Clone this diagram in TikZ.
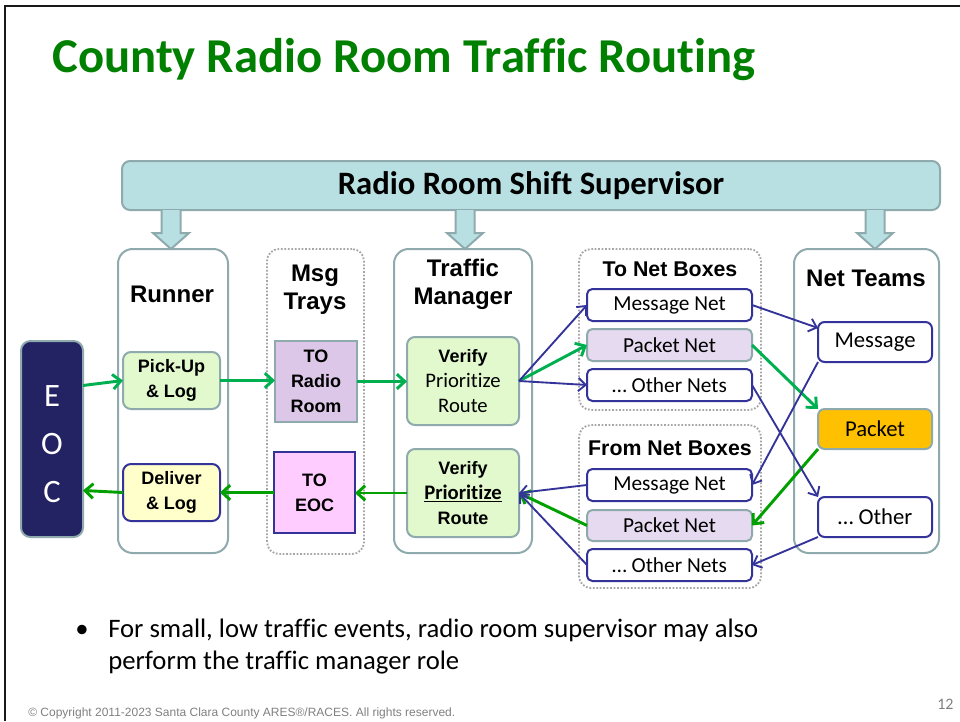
\documentclass[tikz,border=0pt]{standalone}
\usepackage{fontspec}
\setmainfont{Carlito}[Ligatures=NoCommon]
\newfontfamily\arial{Liberation Sans}
\usetikzlibrary{arrows.meta,calc}
\definecolor{titlegreen}{HTML}{008000}
\definecolor{greenA}{HTML}{00B050}
\definecolor{greenB}{HTML}{00A000}
\definecolor{navy}{HTML}{333399}
\definecolor{tealb}{HTML}{8FAAAC}
\definecolor{supfill}{HTML}{B8DFE1}
\definecolor{eocfill}{HTML}{232262}
\definecolor{lgreen}{HTML}{E2F9CD}
\definecolor{lyellow}{HTML}{FFFFCC}
\definecolor{lav}{HTML}{DCC7E9}
\definecolor{lav2}{HTML}{E5DAF0}
\definecolor{lpink}{HTML}{FFCCFF}
\definecolor{orangef}{HTML}{FFC000}
\definecolor{dotgray}{HTML}{A6A6A6}
\definecolor{copygray}{HTML}{808080}
\newcommand\bx[7]{%
  \node[#2, minimum width={(#5-#3)*0.75pt}, minimum height={(#6-#4)*0.75pt}] (#1) at ({(#3+#5)/2},{(#4+#6)/2}) {#7};}
\newcommand\fa{\arial\bfseries\fontsize{18}{21}\selectfont}
\newcommand\fb{\arial\bfseries\fontsize{13.5}{18.75}\selectfont}
\newcommand\fc{\fontsize{16}{19}\selectfont}
\begin{document}
\begin{tikzpicture}[x=0.75pt,y=-0.75pt,
  box/.style={inner sep=0pt, outer sep=0pt, line width=1.5pt, align=center},
  cont/.style={box, draw=tealb, fill=white, rounded corners=11pt},
  dcont/.style={box, draw=dotgray, line width=1.4pt, dash pattern=on 1.3pt off 1.3pt, rounded corners=9pt},
  gbox/.style={box, draw=tealb, fill=lgreen, rounded corners=6pt},
  ybox/.style={box, draw=navy, fill=lyellow, rounded corners=6pt},
  netw/.style={box, draw=navy, fill=white, rounded corners=4pt},
  netp/.style={box, draw=tealb, fill=lav2, rounded corners=4pt},
  title/.style={inner sep=0pt, align=center, font=\fa},
  garrow/.style={draw=greenA, line width=2.2pt, -{Straight Barb[length=6pt,width=11pt]}},
  garrowb/.style={draw=greenB, line width=2.2pt, -{Straight Barb[length=6pt,width=11pt]}},
  narrow/.style={draw=navy, line width=1.4pt, -{Straight Barb[length=5.5pt,width=10pt]}},
  barrow/.style={draw=tealb, fill=supfill, line width=1.5pt, line join=miter}
]
\useasboundingbox (0,0) rectangle (960,721);
% slide frame
\draw[line width=1.7pt, color=black!90] (5.3,721) -- (5.3,6.2) -- (960,6.2);
% title
\node[anchor=west, inner sep=0pt, text=titlegreen, font=\bfseries\fontsize{36.5}{44}\selectfont] (title) at (52,60) {County Radio Room Traffic Routing};
% supervisor bar
\bx{sup}{box, draw=tealb, fill=supfill, rounded corners=6pt, font=\bfseries\fontsize{24.5}{28}\selectfont}{122}{161}{940}{210}{Radio Room Shift Supervisor}
% containers
\bx{runner}{cont}{118}{249}{228}{553}{}
\bx{trays}{dcont}{267}{249}{364}{554}{}
\bx{traffic}{cont}{394}{249}{532}{553}{}
\bx{tonet}{dcont}{579}{249}{761}{410}{}
\bx{fromnet}{dcont}{579}{425}{761}{588}{}
\bx{teams}{cont}{794}{249}{939}{553}{}
% container titles
\node[title] (runnerT) at (172,294) {Runner};
\node[title] (traysT) at (315,290) {Msg\\Trays};
\node[title] (trafficT) at (463,284) {Traffic\\Manager};
\node[title, font=\arial\bfseries\fontsize{16}{19}\selectfont] (tonetT) at (670,269) {To Net Boxes};
\node[title, font=\arial\bfseries\fontsize{16}{19}\selectfont] (fromnetT) at (670,448) {From Net Boxes};
\node[title] (teamsT) at (866,278) {Net Teams};
% EOC
\node[box, draw=tealb, fill=eocfill, rounded corners=7pt, minimum width={62*0.75pt}, minimum height={196*0.75pt}] (EOC) at (52,439) {};
\node[inner sep=0pt, align=center, text=white, font=\fontsize{24.5}{36}\selectfont] (EOCtext) at (52,444) {E\\O\\C};
% runner boxes
\bx{PickUp}{gbox, font=\fb}{123}{352}{220}{409}{Pick-Up\\\& Log}
\bx{Deliver}{ybox, font=\fb}{123}{464}{220}{521}{Deliver\\\& Log}
% trays
\bx{TORadio}{box, draw=tealb, fill=lav, font=\fb}{275}{341}{357}{422}{TO\\Radio\\Room}
\bx{TOEOC}{box, draw=navy, fill=lpink, font=\fb}{274}{452}{355}{533}{TO\\EOC}
% traffic manager boxes
\bx{Verify1}{gbox, font=\fb}{407}{337}{519}{425}{Verify\\{\rmfamily\mdseries\fontsize{15.5}{18.75}\selectfont Prioritize}\\{\rmfamily\mdseries\fontsize{15.5}{18.75}\selectfont Route}}
\bx{Verify2}{gbox, font=\fb}{407}{449}{519}{537}{Verify\\{\rmfamily\fontsize{15.5}{18.75}\selectfont\underline{Prioritize}}\\Route}
% net boxes
\bx{MsgNet1}{netw, font=\fc}{587}{289}{752}{321}{Message Net}
\bx{PktNet1}{netp, font=\fc}{587}{329}{752}{361}{Packet Net}
\bx{OthNet1}{netw, font=\fc}{587}{369}{752}{401}{… Other Nets}
\bx{MsgNet2}{netw, font=\fc}{587}{469}{752}{501}{Message Net}
\bx{PktNet2}{netp, font=\fc}{587}{510}{752}{541}{Packet Net}
\bx{OthNet2}{netw, font=\fc}{587}{549}{752}{581}{… Other Nets}
% net teams
\bx{MsgTeam}{netw, rounded corners=5pt, font=\fontsize{17}{20}\selectfont}{818}{322}{932}{362}{Message}
\bx{PktTeam}{box, draw=tealb, fill=orangef, rounded corners=5pt, font=\fontsize{17}{20}\selectfont}{818}{409}{932}{449}{Packet}
\bx{OthTeam}{netw, rounded corners=5pt, font=\fontsize{17}{20}\selectfont}{818}{497}{932}{537}{… Other}
% block arrows from supervisor
\coordinate (xa) at (171,0);
\coordinate (xb) at (465,0);
\coordinate (xc) at (875,0);
\foreach \xx/\tg in {xa/runner, xb/traffic, xc/teams}{
  \coordinate (top) at (sup.south -| \xx);
  \coordinate (tip) at (\tg.north -| \xx);
  \draw[barrow] ($(top)+(-9.5,0)$) -- ($(tip)+(-9.5,-16)$) -- ($(tip)+(-18,-16)$) -- (tip) -- ($(tip)+(18,-16)$) -- ($(tip)+(9.5,-16)$) -- ($(top)+(9.5,0)$);
}
% green flow: incoming
\draw[garrow] ($(EOC.east |- PickUp.west)+(0,5)$) -- (PickUp.west);
\draw[garrow] (PickUp.east) -- (PickUp.east -| TORadio.west);
\draw[garrow] (TORadio.east) -- (TORadio.east -| Verify1.west);
\draw[garrow] (Verify1.east) -- (PktNet1.west);
\draw[garrow] (PktNet1.east) -- (PktTeam.north west);
% green flow: outgoing
\draw[garrowb] (PktTeam.south west) -- (PktNet2.east);
\draw[garrowb] (PktNet2.west) -- (Verify2.east);
\draw[garrowb] (Verify2.west) -- (Verify2.west -| TOEOC.east);
\draw[garrowb] (TOEOC.west) -- (TOEOC.west -| Deliver.east);
\draw[garrowb] (Deliver.west) -- ($(EOC.east |- Deliver.west)+(0,-2)$);
% navy flow
\draw[narrow] (Verify1.east) -- (MsgNet1.west);
\draw[narrow] (Verify1.east) -- (OthNet1.west);
\draw[narrow] (MsgNet1.east) -- ($(MsgTeam.north west)+(0,6)$);
\draw[narrow] (MsgTeam.south west) -- (MsgNet2.east);
\draw[narrow] (OthNet1.east) -- (OthTeam.north west);
\draw[narrow] (OthTeam.south west) -- (OthNet2.east);
\draw[narrow] (MsgNet2.west) -- (Verify2.east);
\draw[narrow] (OthNet2.west) -- (Verify2.east);
% bullet text
\node[anchor=base, inner sep=0pt, font=\fontsize{20}{24}\selectfont] (bullet) at (82,637) {•};
\node[anchor=base west, inner sep=0pt, font=\fontsize{20}{24}\selectfont] (line1) at (108,637) {For small, low traffic events, radio room supervisor may also};
\node[anchor=base west, inner sep=0pt, font=\fontsize{20}{24}\selectfont] (line2) at (108,669) {perform the traffic manager role};
% footer
\node[anchor=base west, inner sep=0pt, text=copygray, font=\arial\fontsize{9}{11}\selectfont] (copy) at (28,716) {© Copyright 2011-2023 Santa Clara County ARES®/RACES. All rights reserved.};
\node[anchor=base west, inner sep=0pt, text=copygray, font=\fontsize{12}{14}\selectfont] (pnum) at (937,709) {12};
\end{tikzpicture}
\end{document}
